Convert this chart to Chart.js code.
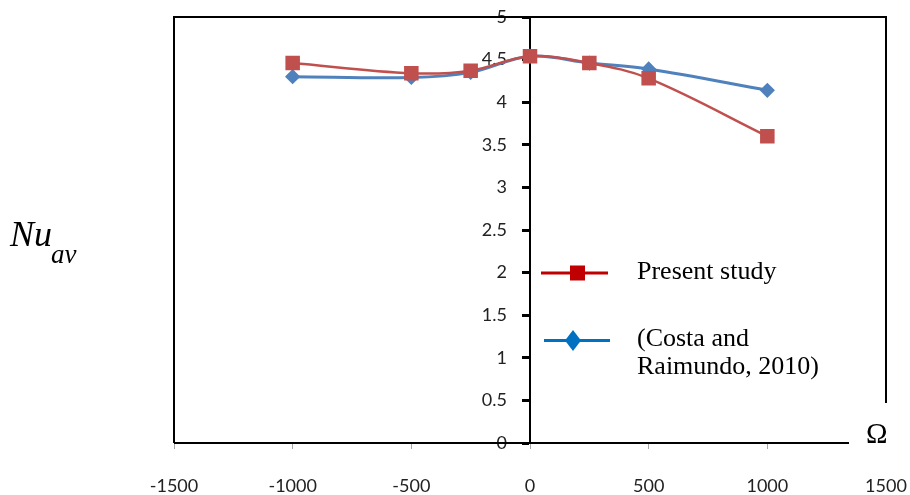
<!DOCTYPE html>
<html>
<head>
<meta charset="utf-8">
<script src="https://cdn.jsdelivr.net/npm/chart.js@4/dist/chart.umd.min.js"></script>
<style>
    html, body { margin: 0; padding: 0; background: #fff; }
    #wrap { width: 910px; height: 495px; }
</style>
</head>
<body>
<div id="wrap"><canvas id="myChart" width="910" height="495"></canvas></div>
<script>
// rotation rate Omega and average Nusselt number
const omega = [-1000, -500, -250, 0, 250, 500, 1000];
const presentStudy = [4.46, 4.34, 4.37, 4.54, 4.46, 4.28, 3.60];
const costaRaimundo = [4.30, 4.29, 4.35, 4.54, 4.46, 4.39, 4.14];
const xTicks = [-1500, -1000, -500, 0, 500, 1000, 1500];
const yTicks = [0, 0.5, 1, 1.5, 2, 2.5, 3, 3.5, 4, 4.5, 5];
const legendLabels = ["Present study", ["(Costa and", "Raimundo, 2010)"]];

const ctx = document.getElementById("myChart");

let toPoints = (xs, ys) => xs.map((x, i) => ({ x: x, y: ys[i] }));

// the y axis sits at x = 0, push its labels left of the tick marks
const yLabelShift = {
    id: "yLabelShift",
    beforeDraw(chart) {
        const y = chart.scales.y;
        const axisX = chart.scales.x.getPixelForValue(0);
        y.getLabelItems(chart.chartArea).forEach(item => {
            item.options.translation[0] = axisX - 23;
            item.options.textAlign = "right";
        });
    }
};

// frame, legend and axis titles drawn on top
const decorations = {
    id: "decorations",
    afterDraw(chart) {
        const c = chart.ctx;
        const a = chart.chartArea;
        c.save();
        c.strokeStyle = "#000";
        c.lineWidth = 2;
        c.beginPath();
        c.moveTo(a.left, a.bottom);
        c.lineTo(a.left, a.top);
        c.lineTo(a.right, a.top);
        c.lineTo(a.right, 403);
        c.moveTo(a.left, a.bottom);
        c.lineTo(849, a.bottom);
        c.stroke();

        // legend
        c.lineWidth = 3;
        c.strokeStyle = "#C00000";
        c.beginPath();
        c.moveTo(541, 273);
        c.lineTo(608, 273);
        c.stroke();
        c.fillStyle = "#C00000";
        c.fillRect(570, 265.5, 15, 15);

        c.strokeStyle = "#0070C0";
        c.beginPath();
        c.moveTo(544, 340.5);
        c.lineTo(610, 340.5);
        c.stroke();
        c.fillStyle = "#0070C0";
        c.beginPath();
        c.moveTo(573, 330);
        c.lineTo(581, 340.5);
        c.lineTo(573, 351);
        c.lineTo(565, 340.5);
        c.closePath();
        c.fill();

        c.fillStyle = "#000";
        c.textAlign = "left";
        c.textBaseline = "alphabetic";
        c.font = "26px 'Liberation Serif'";
        c.fillText(legendLabels[0], 637, 279);
        c.fillText(legendLabels[1][0], 637, 346);
        c.fillText(legendLabels[1][1], 637, 374);

        // axis titles
        c.font = "italic 36px 'Liberation Serif'";
        c.fillText("Nu", 10, 246);
        c.font = "italic 27px 'Liberation Serif'";
        c.fillText("av", 51, 263);
        c.font = "29px 'Liberation Serif'";
        c.fillText("\u03A9", 866, 443);
        c.restore();
    }
};

const myChart = new Chart(ctx, {
    type: "scatter",
    data: {
        datasets: [
            {
                label: "Present study",
                data: toPoints(omega, presentStudy),
                showLine: true,
                borderColor: "#C0504D",
                backgroundColor: "#C0504D",
                borderWidth: 2.5,
                pointStyle: "rect",
                pointRadius: 8.5,
                tension: 0.35
            },
            {
                label: "(Costa and Raimundo, 2010)",
                data: toPoints(omega, costaRaimundo),
                showLine: true,
                borderColor: "#4F81BD",
                backgroundColor: "#4F81BD",
                borderWidth: 3,
                pointStyle: "rectRot",
                pointRadius: 5.5,
                tension: 0.35
            }
        ]
    },
    options: {
        responsive: false,
        animation: false,
        layout: {
            padding: { left: 174, right: 24, top: 17, bottom: 0 }
        },
        scales: {
            x: {
                type: "linear",
                position: "bottom",
                min: -1500,
                max: 1500,
                afterBuildTicks: (scale) => { scale.ticks = xTicks.map(v => ({ value: v })); },
                afterFit: (scale) => {
                    scale.height = 52;
                    scale.paddingLeft = 0;
                    scale.paddingRight = 0;
                },
                border: { display: false },
                grid: {
                    drawOnChartArea: false,
                    tickLength: 6,
                    color: (c) => (c.tick && c.tick.value === 1500 ? "rgba(0,0,0,0)" : "#a6a6a6")
                },
                ticks: {
                    padding: 26,
                    color: "#222",
                    font: { family: "Lato", size: 18 },
                    maxRotation: 0,
                    callback: (v) => String(v)
                }
            },
            y: {
                type: "linear",
                position: { x: 0 },
                min: 0,
                max: 5,
                afterBuildTicks: (scale) => { scale.ticks = yTicks.map(v => ({ value: v })); },
                afterFit: (scale) => {
                    scale.width = 0;
                    scale.paddingTop = 0;
                    scale.paddingBottom = 0;
                },
                border: { display: true, color: "#000", width: 2 },
                grid: {
                    drawOnChartArea: false,
                    tickLength: 7,
                    tickColor: "#000",
                    tickWidth: 3
                },
                ticks: {
                    color: "#222",
                    font: { family: "Lato", size: 18 },
                    callback: (v) => String(v)
                }
            }
        },
        plugins: {
            legend: { display: false },
            tooltip: { enabled: false }
        }
    },
    plugins: [yLabelShift, decorations]
});
</script>
</body>
</html>
